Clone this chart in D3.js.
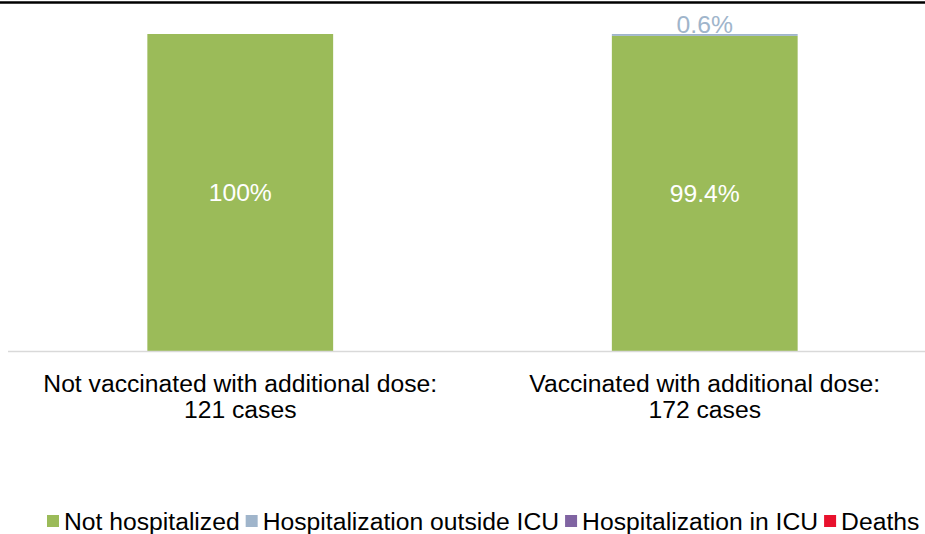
<!DOCTYPE html>
<html>
<head>
<meta charset="utf-8">
<script src="https://cdn.jsdelivr.net/npm/d3@7"></script>
<style>
  body { margin: 0; background: #fff; }
  text { font-family: "Liberation Sans", Arial, sans-serif; }
</style>
</head>
<body>
<div id="chart"></div>
<script>
// categories and values (percent of cases)
let groups = ['Not vaccinated with additional dose:', 'Vaccinated with additional dose:'];
let caseCounts = ['121 cases', '172 cases'];
let seriesNames = ['Not hospitalized', 'Hospitalization outside ICU', 'Hospitalization in ICU', 'Deaths'];
let notHosp = [100, 99.4];
let hospOutside = [0, 0.6];
let hospIcu = [0, 0];
let deaths = [0, 0];

let colors = ['#9bbb59', '#a0b5cb', '#8064a2', '#e8112d'];

const W = 925, H = 534;
const baseY = 351, topY = 34;
const fs = 24.7;

let rows = groups.map((g, i) => ({
  group: g,
  'Not hospitalized': notHosp[i],
  'Hospitalization outside ICU': hospOutside[i],
  'Hospitalization in ICU': hospIcu[i],
  'Deaths': deaths[i]
}));

let stacked = d3.stack().keys(seriesNames)(rows);

let svg = d3.select('#chart').append('svg')
  .attr('width', W).attr('height', H);

// cut-off title border at the top
svg.append('line')
  .attr('x1', 0).attr('x2', W)
  .attr('y1', 2.5).attr('y2', 2.5)
  .attr('stroke', '#000').attr('stroke-width', 2.5);

let x = d3.scaleBand().domain(groups).range([8, 937]).paddingInner(0.6).paddingOuter(0.3);
let y = d3.scaleLinear().domain([0, 100]).range([baseY, topY]);

// bars
svg.append('g').selectAll('g')
  .data(stacked)
  .join('g')
  .attr('fill', (d, i) => colors[i])
  .selectAll('rect')
  .data(d => d)
  .join('rect')
  .attr('x', d => x(d.data.group))
  .attr('width', x.bandwidth())
  .attr('y', d => y(d[1]))
  .attr('height', d => y(d[0]) - y(d[1]));

// axis line
svg.append('line')
  .attr('x1', 8).attr('x2', W)
  .attr('y1', baseY + 0.5).attr('y2', baseY + 0.5)
  .attr('stroke', '#d9d9d9').attr('stroke-width', 1.5);

// labels inside green bars
svg.append('g').selectAll('text')
  .data(stacked[0])
  .join('text')
  .attr('x', d => x(d.data.group) + x.bandwidth() / 2)
  .attr('y', d => y((d[0] + d[1]) / 2))
  .attr('dy', '0.35em')
  .attr('text-anchor', 'middle')
  .attr('fill', '#fff')
  .attr('font-size', fs)
  .text(d => d3.format('.3~r')(d[1] - d[0]) + '%');

// labels above bars for small outside-ICU share
svg.append('g').selectAll('text')
  .data(stacked[1].filter(d => d[1] - d[0] > 0))
  .join('text')
  .attr('x', d => x(d.data.group) + x.bandwidth() / 2)
  .attr('y', d => y(d[1]) - 1)
  .attr('text-anchor', 'middle')
  .attr('fill', colors[1])
  .attr('font-size', fs)
  .text(d => d3.format('.1f')(d[1] - d[0]) + '%');

// category labels
let cat = svg.append('g').selectAll('text')
  .data(groups)
  .join('text')
  .attr('x', d => x(d) + x.bandwidth() / 2)
  .attr('y', 392)
  .attr('text-anchor', 'middle')
  .attr('font-size', fs)
  .attr('fill', '#000');
cat.append('tspan').text(d => d);
cat.append('tspan')
  .attr('x', d => x(d) + x.bandwidth() / 2)
  .attr('dy', 26)
  .text((d, i) => caseCounts[i]);

// legend
let legend = svg.append('g');
let lx = 47;
seriesNames.forEach((name, i) => {
  legend.append('rect')
    .attr('x', lx).attr('y', 515)
    .attr('width', 12).attr('height', 12)
    .attr('fill', colors[i]);
  let t = legend.append('text')
    .attr('x', lx + 17).attr('y', 530)
    .attr('font-size', fs)
    .attr('fill', '#000')
    .text(name);
  lx += 17 + t.node().getComputedTextLength() + 6;
});
</script>
</body>
</html>
